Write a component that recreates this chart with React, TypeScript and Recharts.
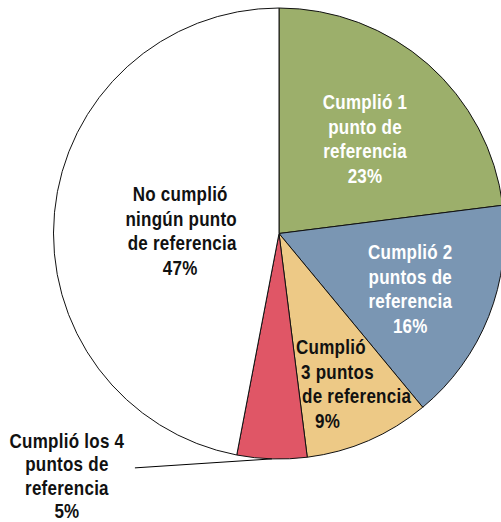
import React from 'react';
import { PieChart, Pie, Cell } from 'recharts';

const categories = [
  'Cumplió 1 punto de referencia',
  'Cumplió 2 puntos de referencia',
  'Cumplió 3 puntos de referencia',
  'Cumplió los 4 puntos de referencia',
  'No cumplió ningún punto de referencia',
];
const values = [23, 16, 9, 5, 47];
const labelLines = [
  ['Cumplió 1', 'punto de', 'referencia'],
  ['Cumplió 2', 'puntos de', 'referencia'],
  ['Cumplió', '3 puntos', 'de referencia'],
  ['Cumplió los 4', 'puntos de', 'referencia'],
  ['No cumplió', 'ningún punto', 'de referencia'],
];
const colors = ['#9CAF6B', '#7A96B3', '#EDC986', '#E05666', '#FFFFFF'];
const textColors = ['#FFFFFF', '#FFFFFF', '#111111', '#111111', '#111111'];

// label layout: radius fraction, nudge, per-line offsets, anchor, line height
type LS = {
  frac: number; nx: number; ny: number; anchor: 'middle' | 'start'; lh: number;
  lineDx: number[]; outside?: { lineDx: number; lineDy: number; textDx: number; textDy: number };
};
const LABEL_STYLE: LS[] = [
  { frac: 0.567, nx: 1.5, ny: 1.5, anchor: 'middle', lh: 24.6, lineDx: [0, 0, 0, 0] },
  { frac: 0.631, nx: -1, ny: 3, anchor: 'middle', lh: 24.6, lineDx: [0, 0, 0, 0] },
  { frac: 0.715, nx: -6, ny: 2.5, anchor: 'start', lh: 24.6, lineDx: [-41, -36, -35, -22] },
  { frac: 1, nx: 0, ny: 0, anchor: 'middle', lh: 23.2, lineDx: [0, 0, 0, 0], outside: { lineDx: -137, lineDy: 9, textDx: -205, textDy: 17.2 } },
  { frac: 0.44, nx: 0, ny: 7, anchor: 'middle', lh: 24.6, lineDx: [0, 1, 2, 0] },
];

const FONT = '"Liberation Sans", Arial, sans-serif';
const SX = 0.85;

const data = categories.map((name, i) => ({ name, value: values[i] }));

const renderLabel = (props: any) => {
  const { cx, cy, midAngle, outerRadius, index, value } = props;
  const st = LABEL_STYLE[index];
  const rad = (-midAngle * Math.PI) / 180;
  const lines = [...labelLines[index], `${value}%`];
  let xc: number;
  let yc: number;
  let leader: React.ReactNode = null;
  if (st.outside) {
    const ox = cx + outerRadius * Math.cos(rad);
    const oy = cy + outerRadius * Math.sin(rad);
    xc = ox + st.outside.textDx;
    yc = oy + st.outside.textDy;
    leader = (
      <line x1={ox} y1={oy} x2={ox + st.outside.lineDx} y2={oy + st.outside.lineDy} stroke="#000" strokeWidth={1} />
    );
  } else {
    const r = outerRadius * st.frac;
    xc = cx + r * Math.cos(rad) + st.nx;
    yc = cy + r * Math.sin(rad) + st.ny;
  }
  const firstBase = yc - 1.5 * st.lh + 7;
  return (
    <g>
      {leader}
      {lines.map((t, i) => (
        <text
          key={i}
          x={0}
          y={0}
          transform={`translate(${xc + st.lineDx[i]},${firstBase + i * st.lh}) scale(${SX},1)`}
          textAnchor={st.anchor}
          fill={textColors[index]}
          fontFamily={FONT}
          fontWeight="bold"
          fontSize={20}
          letterSpacing={0.3}
        >
          {t}
        </text>
      ))}
    </g>
  );
};

export default function App() {
  return (
    <div style={{ position: 'absolute', left: 0, top: 0, width: 501, height: 522, background: '#fff' }}>
      <PieChart width={501} height={522} margin={{ top: 0, right: 0, bottom: 0, left: 0 }}>
        <Pie
          data={data}
          dataKey="value"
          nameKey="name"
          cx={279}
          cy={233.5}
          outerRadius={225.5}
          startAngle={90}
          endAngle={-270}
          stroke="#111"
          strokeWidth={1}
          label={renderLabel}
          labelLine={false}
          isAnimationActive={false}
        >
          {data.map((d, i) => (
            <Cell key={d.name} fill={colors[i]} />
          ))}
        </Pie>
      </PieChart>
    </div>
  );
}
